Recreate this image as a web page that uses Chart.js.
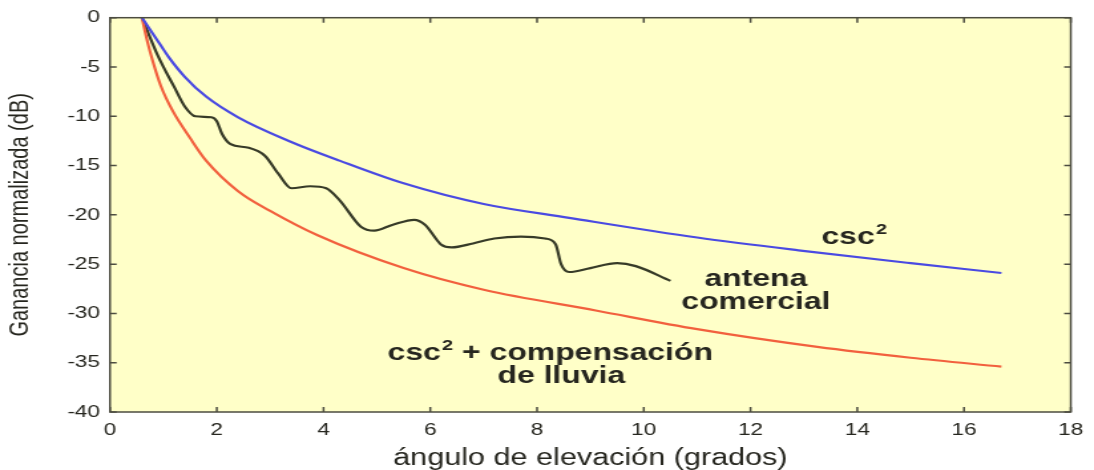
<!DOCTYPE html>
<html>
<head>
<meta charset="utf-8">
<script src="https://cdn.jsdelivr.net/npm/chart.js@4"></script>
<style>
  body { margin: 0; background: #fff; }
  #chart { display: block; width: 1094px; height: 470px; }
</style>
</head>
<body>
<canvas id="chart" width="823" height="470" style="width:1094px;height:470px"></canvas>
<script>
// curves: angle (deg) -> normalized gain (dB)
const cscX = [0.6, 0.85, 1.1, 1.4, 1.8, 2.4, 3.35, 4.3, 5.5, 7.0, 8.6, 11.0, 12.9, 15.0, 16.7];
const cscY = [0, -2.0, -4.0, -6.0, -8.0, -10.1, -12.5, -14.5, -16.8, -18.9, -20.3, -22.3, -23.6, -24.9, -25.9];

const rainX = [0.6, 0.7, 0.8, 0.95, 1.18, 1.5, 1.8, 2.4, 3.0, 3.9, 5.5, 7.0, 9.1, 11.0, 13.25, 15.0, 16.7];
const rainY = [0, -2.4, -4.4, -6.9, -9.5, -12.2, -14.5, -17.6, -19.6, -22.1, -25.4, -27.6, -29.7, -31.6, -33.4, -34.5, -35.4];

const antX = [0.6, 0.9, 1.2, 1.4, 1.6, 1.9, 2.0, 2.1, 2.25, 2.6, 2.9, 3.15, 3.4, 3.75, 4.05, 4.3, 4.7, 4.95, 5.3, 5.7, 5.9, 6.2, 6.4, 6.8, 7.2, 7.7, 8.15, 8.35, 8.45, 8.6, 9.0, 9.5, 9.85, 10.5];
const antY = [0, -3.9, -7.0, -9.0, -10.0, -10.1, -10.5, -11.8, -12.8, -13.2, -14.0, -15.8, -17.3, -17.1, -17.3, -18.5, -21.2, -21.6, -21.0, -20.5, -21.0, -23.0, -23.3, -22.9, -22.4, -22.2, -22.4, -23.0, -25.0, -25.8, -25.4, -24.9, -25.2, -26.7];

const xTicks = { min: 0, max: 18, step: 2 };
const yTicks = { min: -40, max: 0, step: 5 };

const fontFamily = '"Liberation Sans", Arial, Helvetica, sans-serif';
const textColor = '#26261f';

function points(xs, ys) {
  return xs.map((x, i) => ({ x: x, y: ys[i] }));
}

const boxPlugin = {
  id: 'box',
  beforeDraw(chart) {
    const a = chart.chartArea;
    const c = chart.ctx;
    c.save();
    c.fillStyle = '#ffffc8';
    c.fillRect(a.left, a.top, a.right - a.left, a.bottom - a.top);
    c.restore();
  },
  afterDatasetsDraw(chart) {
    const a = chart.chartArea;
    const c = chart.ctx;
    const sx = chart.scales.x, sy = chart.scales.y;
    c.save();
    c.strokeStyle = '#4c4c40';
    c.lineWidth = 1.5;
    c.beginPath();
    sx.ticks.forEach(t => {
      const p = sx.getPixelForValue(t.value);
      c.moveTo(p, a.bottom); c.lineTo(p, a.bottom - 5);
      c.moveTo(p, a.top); c.lineTo(p, a.top + 5);
    });
    sy.ticks.forEach(t => {
      const p = sy.getPixelForValue(t.value);
      c.moveTo(a.left, p); c.lineTo(a.left + 5, p);
      c.moveTo(a.right, p); c.lineTo(a.right - 5, p);
    });
    c.stroke();
    c.strokeRect(a.left, a.top, a.right - a.left, a.bottom - a.top);
    c.restore();
  },
  afterDraw(chart) {
    const c = chart.ctx;
    const sx = chart.scales.x, sy = chart.scales.y;
    c.save();
    c.fillStyle = textColor;
    c.textBaseline = 'alphabetic';
    const big = 'bold 24px ' + fontFamily;
    const small = 'bold 15px ' + fontFamily;

    // "csc²" next to the blue curve
    let x = sx.getPixelForValue(13.33), y = sy.getPixelForValue(-22.96);
    c.font = big; c.textAlign = 'left';
    c.fillText('csc', x, y);
    x += c.measureText('csc').width + 1;
    c.font = small;
    c.fillText('2', x, y - 10);

    // "antena comercial"
    c.font = big; c.textAlign = 'center';
    c.fillText('antena', sx.getPixelForValue(12.1), sy.getPixelForValue(-27.19));
    c.fillText('comercial', sx.getPixelForValue(12.1), sy.getPixelForValue(-29.52));

    // "csc² + compensación de lluvia"
    c.textAlign = 'left';
    x = sx.getPixelForValue(5.2); y = sy.getPixelForValue(-34.76);
    c.fillText('csc', x, y);
    x += c.measureText('csc').width + 1;
    c.font = small;
    c.fillText('2', x, y - 10);
    x += c.measureText('2').width;
    c.font = big;
    c.fillText(' + compensación', x, y);
    c.fillText('de lluvia', sx.getPixelForValue(7.26), sy.getPixelForValue(-37.08));
    c.restore();
  }
};

const line = (label, xs, ys, color) => ({
  label: label,
  data: points(xs, ys),
  borderColor: color,
  borderWidth: 2.2,
  pointRadius: 0,
  fill: false,
  cubicInterpolationMode: 'monotone'
});

new Chart(document.getElementById('chart'), {
  type: 'line',
  data: {
    datasets: [
      line('csc2', cscX, cscY, '#4a4ae2'),
      line('csc2 + compensación de lluvia', rainX, rainY, '#f2603e'),
      line('antena comercial', antX, antY, '#373b28')
    ]
  },
  options: {
    responsive: false,
    animation: false,
    layout: { padding: { top: 15.5, right: 16, left: 0, bottom: 0 } },
    plugins: { legend: { display: false }, tooltip: { enabled: false } },
    scales: {
      x: {
        type: 'linear',
        min: xTicks.min, max: xTicks.max,
        ticks: { stepSize: xTicks.step, padding: 8, color: textColor, font: { family: fontFamily, size: 17 } },
        grid: { display: false, drawTicks: false },
        border: { display: false },
        title: { display: true, text: 'ángulo de elevación (grados)', color: textColor, padding: 0,
                 font: { family: fontFamily, size: 23, lineHeight: 1 } },
        afterFit(s) { s.height = 58; }
      },
      y: {
        type: 'linear',
        min: yTicks.min, max: yTicks.max,
        ticks: { stepSize: yTicks.step, padding: 7.5, color: textColor, font: { family: fontFamily, size: 17 } },
        grid: { display: false, drawTicks: false },
        border: { display: false },
        title: { display: true, text: 'Ganancia normalizada (dB)', color: textColor, padding: { top: 3, bottom: 0 },
                 font: { family: fontFamily, size: 20 } },
        afterFit(s) { s.width = 82.75; }
      }
    }
  },
  plugins: [boxPlugin]
});
</script>
</body>
</html>
